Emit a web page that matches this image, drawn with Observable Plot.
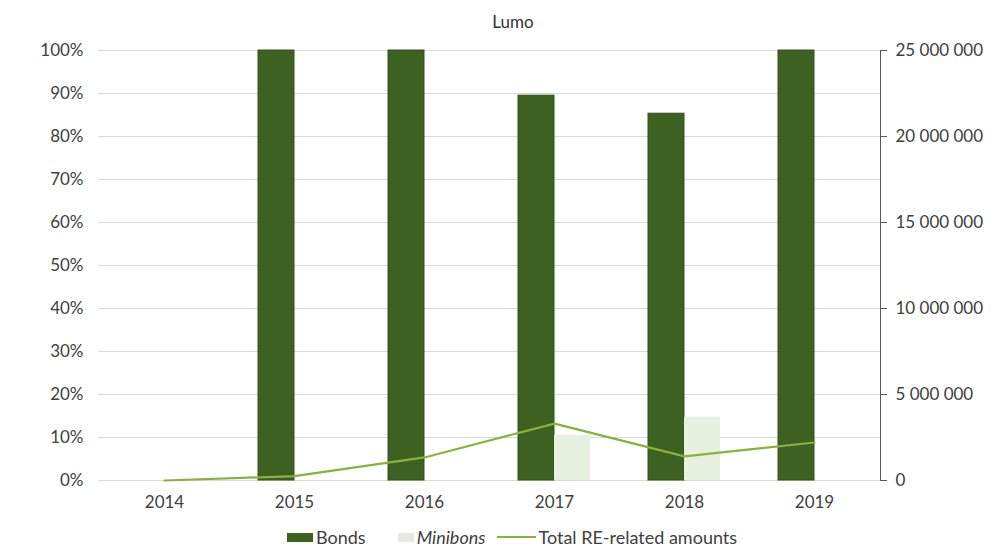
<!DOCTYPE html>
<html>
<head>
<meta charset="utf-8">
<script src="https://cdn.jsdelivr.net/npm/d3@7"></script>
<script src="https://cdn.jsdelivr.net/npm/@observablehq/plot@0.6"></script>
<style>
  body { margin: 0; background: #fff; font-family: Lato, "Open Sans", sans-serif; }
  #wrap { position: relative; width: 992px; height: 554px; overflow: hidden; }
  #title { position: absolute; top: 11px; left: 0; width: 1026px; text-align: center; font-size: 17px; color: #333; }
  #legend { position: absolute; top: 526px; left: 287px; display: flex; align-items: center; font-size: 18px; color: #404040; white-space: nowrap; }
  #legend .item { display: flex; align-items: center; }
  #legend .sw { display: inline-block; width: 26px; height: 9px; margin-right: 3px; }
  #legend .ln { display: inline-block; width: 39px; height: 2px; margin-right: 2px; }
</style>
</head>
<body>
<div id="wrap">
  <div id="chart"></div>
  <div id="title">Lumo</div>
  <div id="legend"></div>
</div>
<script>
// ---- data ----
const years = ["2014", "2015", "2016", "2017", "2018", "2019"];
const bonds = [0, 100, 100, 89.5, 85.3, 100];          // % share
const minibons = [0, 0, 0, 10.5, 14.7, 0];             // % share
const totalRE = [0, 250000, 1340000, 3310000, 1400000, 2210000]; // amounts (right axis)
const leftTicks = [0, 10, 20, 30, 40, 50, 60, 70, 80, 90, 100];
const rightTicks = [0, 5000000, 10000000, 15000000, 20000000, 25000000];
const rightMax = 25000000;
const seriesNames = ["Bonds", "Minibons", "Total RE-related amounts"];
const colors = { bonds: "#3d6120", minibons: "#e8f1e0", line: "#88b23b" };

// ---- tables ----
const bondRows = years.map((y, i) => ({ year: y, v: bonds[i] }));
const miniRows = years.map((y, i) => ({ year: y, v: minibons[i] }));
const lineRows = years.map((y, i) => ({ year: y, v: totalRE[i] / rightMax * 100 }));

const fmtSpace = v => d3.format(",")(Math.round(v)).replace(/,/g, " ");

const chart = Plot.plot({
  width: 992,
  height: 554,
  marginTop: 50,
  marginBottom: 74,
  marginLeft: 98,
  marginRight: 112,
  style: { fontFamily: "Lato, 'Open Sans', sans-serif", fontSize: "17px", color: "#404040", background: "#fff" },
  x: { type: "band", domain: years, padding: 0, label: null },
  y: { domain: [0, 100], label: null },
  marks: [
    Plot.gridY(leftTicks, { stroke: "#d9d9d9", strokeOpacity: 1, strokeWidth: 1 }),
    Plot.barY(bondRows, { x: "year", y: "v", fill: colors.bonds, stroke: "#33521a", strokeWidth: 1, insetLeft: 29, insetRight: 65 }),
    Plot.barY(miniRows, { x: "year", y: "v", fill: colors.minibons, insetLeft: 65, insetRight: 29 }),
    Plot.line(lineRows, { x: "year", y: "v", stroke: colors.line, strokeWidth: 2.2 }),
    Plot.axisY(leftTicks, { anchor: "left", tickSize: 0, tickPadding: 15, tickFormat: d => d + "%", label: null, fill: "#404040" }),
    Plot.axisY(rightTicks.map(v => v / rightMax * 100), { anchor: "right", tickSize: 6, tickPadding: 9, tickFormat: d => fmtSpace(d / 100 * rightMax), label: null, stroke: "#595959", fill: "#404040" }),
    Plot.axisX({ tickSize: 0, tickPadding: 15, label: null, fill: "#404040" }),
    Plot.frame({ anchor: "right", stroke: "#595959" })
  ]
});
document.getElementById("chart").appendChild(chart);

// ---- legend ----
const legend = document.getElementById("legend");
const legendItems = [
  { name: seriesNames[0], kind: "sw", color: colors.bonds, italic: false, gap: 0, w: 26 },
  { name: seriesNames[1], kind: "sw", color: "#e6e9e3", italic: true, gap: 32, w: 16 },
  { name: seriesNames[2], kind: "ln", color: colors.line, italic: false, gap: 12, w: 39 }
];
legendItems.forEach(it => {
  const d = document.createElement("div");
  d.className = "item";
  d.style.marginLeft = it.gap + "px";
  const s = document.createElement("span");
  s.className = it.kind;
  s.style.background = it.color;
  s.style.width = it.w + "px";
  const t = document.createElement("span");
  t.textContent = it.name;
  if (it.italic) t.style.fontStyle = "italic";
  d.appendChild(s); d.appendChild(t);
  legend.appendChild(d);
});
</script>
</body>
</html>
